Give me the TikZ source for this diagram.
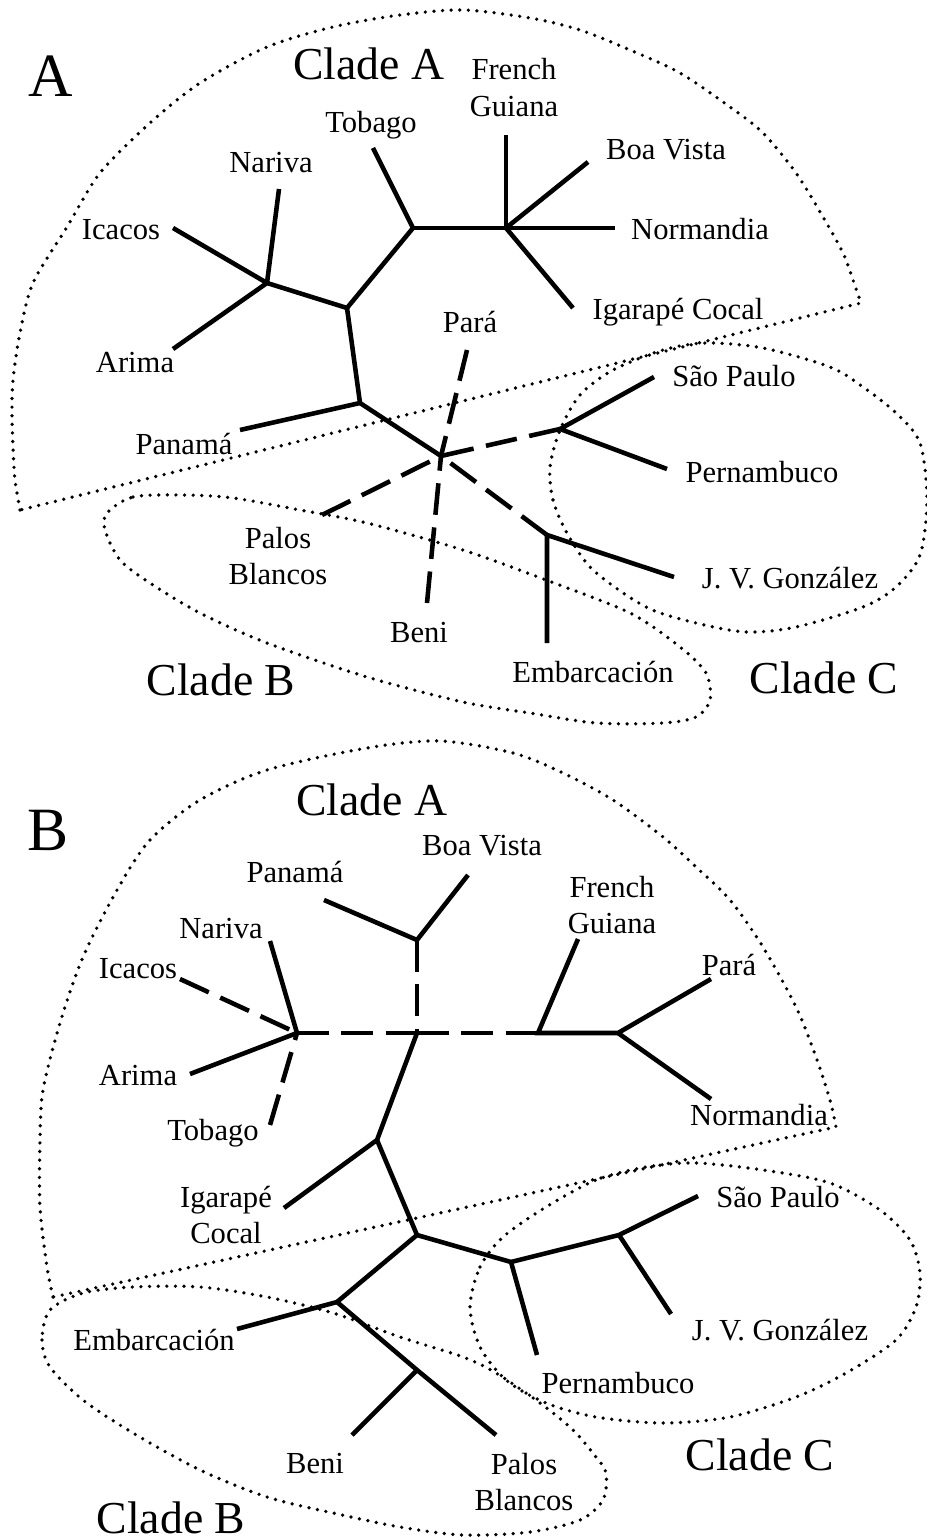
\documentclass[tikz,border=0pt]{standalone}
\usepackage{fontspec}
\setmainfont{Liberation Serif}
\begin{document}
\begin{tikzpicture}[x=0.01cm,y=-0.01cm,
    branch/.style={line width=1.3pt},
    dashbranch/.style={line width=1.3pt,dash pattern=on 9pt off 3.6pt},
    cladeline/.style={line width=1.05pt,line cap=round,dash pattern=on 0pt off 2.45pt},
    taxon/.style={font=\fontsize{8.7}{10.5}\selectfont,anchor=base,inner sep=0pt},
    taxontwo/.style={taxon,anchor=center,align=center},
    cladename/.style={font=\fontsize{13}{15}\selectfont,anchor=base,inner sep=0pt},
    panel/.style={font=\fontsize{17.5}{20}\selectfont,anchor=base,inner sep=0pt}]
  \useasboundingbox (0,0) rectangle (926,1540);

  % panel A
  \node[panel] (pA) at (51,97) {A};
  \node[cladename] (aCA) at (369,80) {Clade A};
  \node[cladename] (aCB) at (221,695) {Clade B};
  \node[cladename] (aCC) at (824,693) {Clade C};
  \node[taxon] (aIca) at (121,240) {Icacos};
  \node[taxon] (aNar) at (271,173) {Nariva};
  \node[taxon] (aTob) at (371,133) {Tobago};
  \node[taxon] (aAri) at (135,373) {Arima};
  \node[taxontwo] (aFGu) at (514,88) {French\\Guiana};
  \node[taxon] (aBV) at (666,160) {Boa Vista};
  \node[taxon] (aNor) at (700,240) {Normandia};
  \node[taxon] (aIgC) at (678,320) {Igarapé Cocal};
  \node[taxon] (aPar) at (470,333) {Pará};
  \node[taxon] (aSPa) at (734,387) {São Paulo};
  \node[taxon] (aPnm) at (184,455) {Panamá};
  \node[taxon] (aPer) at (762,482) {Pernambuco};
  \node[taxontwo] (aPBl) at (278,556) {Palos\\Blancos};
  \node[taxon] (aBen) at (419,642) {Beni};
  \node[taxon] (aJVG) at (790,588) {J. V. González};
  \node[taxon] (aEmb) at (593,682) {Embarcación};

  \coordinate (a1) at (267,283);
  \coordinate (a2) at (347,308);
  \coordinate (a3) at (413,228);
  \coordinate (a4) at (506,228);
  \coordinate (a5) at (360,403);
  \coordinate (a6) at (441,456);
  \coordinate (a7) at (560,429);
  \coordinate (a8) at (547,535);
  \coordinate (aIcaE) at (173,228);
  \coordinate (aNarE) at (279,189);
  \coordinate (aAriE) at (173,349);
  \coordinate (aTobE) at (373,148);
  \coordinate (aFGuE) at (506,135);
  \coordinate (aBVE) at (588,162);
  \coordinate (aNorE) at (615,228);
  \coordinate (aIgCE) at (573,308);
  \coordinate (aPnmE) at (240,430);
  \coordinate (aParE) at (467,350);
  \coordinate (aBenE) at (427,603);
  \coordinate (aPBlE) at (322,515);
  \coordinate (aSPaE) at (654,377);
  \coordinate (aPerE) at (667,469);
  \coordinate (aJVGE) at (674,577);
  \coordinate (aEmbE) at (547,643);

  \draw[branch] (aIcaE) -- (a1) -- (aAriE);
  \draw[branch] (aNarE) -- (a1) -- (a2) -- (a3) -- (aTobE);
  \draw[branch] (a3) -- (a4) -- (aFGuE);
  \draw[branch] (a4) -- (aBVE);
  \draw[branch] (a4) -- (aNorE);
  \draw[branch] (a4) -- (aIgCE);
  \draw[branch] (a2) -- (a5) -- (aPnmE);
  \draw[branch] (a5) -- (a6);
  \draw[branch] (aSPaE) -- (a7) -- (aPerE);
  \draw[branch] (aJVGE) -- (a8) -- (aEmbE);
  \draw[dashbranch] (aParE) -- (a6);
  \draw[dashbranch] (aBenE) -- (a6);
  \draw[dashbranch] (aPBlE) -- (a6);
  \draw[dashbranch] (a7) -- (a6);
  \draw[dashbranch] (a8) -- (a6);

  \draw[cladeline] plot[smooth] coordinates {(20,510) (15,480) (13,447) (12,413)
    (13,380) (20,333) (33,283) (67,227) (100,173) (150,123) (200,83) (267,47)
    (333,27) (400,15) (463,10) (530,18) (580,30) (630,50) (680,73) (730,107)
    (763,133) (796,173) (823,217) (843,253) (853,280) (861,303)} -- cycle;
  \draw[cladeline] plot[smooth cycle] coordinates {(107,513) (133,497) (183,495)
    (233,498) (300,510) (367,523) (463,550) (546,580) (630,613) (680,647)
    (706,673) (710,700) (696,717) (663,723) (596,723) (530,713) (463,702)
    (367,677) (267,643) (200,613) (150,583) (120,560) (105,530)};
  \draw[cladeline] plot[smooth cycle] coordinates {(550,467) (553,500) (567,533)
    (593,570) (646,607) (696,623) (746,632) (796,627) (863,607) (896,587)
    (920,555) (927,500) (920,443) (896,413) (863,387) (830,367) (763,348)
    (706,343) (663,350) (613,370) (580,395) (560,430)};

  % panel B
  \node[panel] (pB) at (48,850) {B};
  \node[cladename] (bCA) at (372,815) {Clade A};
  \node[cladename] (bCB) at (171,1533) {Clade B};
  \node[cladename] (bCC) at (760,1470) {Clade C};
  \node[taxon] (bBV) at (482,855) {Boa Vista};
  \node[taxon] (bPnm) at (295,882) {Panamá};
  \node[taxon] (bNar) at (221,938) {Nariva};
  \node[taxon] (bIca) at (138,978) {Icacos};
  \node[taxon] (bAri) at (138,1085) {Arima};
  \node[taxon] (bTob) at (213,1140) {Tobago};
  \node[taxontwo] (bFGu) at (612,905) {French\\Guiana};
  \node[taxon] (bPar) at (729,975) {Pará};
  \node[taxon] (bNor) at (759,1125) {Normandia};
  \node[taxontwo] (bIgC) at (226,1215) {Igarapé\\Cocal};
  \node[taxon] (bEmb) at (154,1350) {Embarcación};
  \node[taxon] (bBen) at (315,1473) {Beni};
  \node[taxon] (bSPa) at (778,1207) {São Paulo};
  \node[taxon] (bJVG) at (780,1340) {J. V. González};
  \node[taxon] (bPer) at (618,1393) {Pernambuco};
  \node[taxontwo] (bPBl) at (524,1482) {Palos\\Blancos};

  \coordinate (b1) at (297,1033);
  \coordinate (b2) at (417,1033);
  \coordinate (b3) at (417,940);
  \coordinate (b4) at (538,1033);
  \coordinate (b5) at (618,1033);
  \coordinate (b6) at (377,1140);
  \coordinate (b7) at (417,1235);
  \coordinate (b8) at (337,1302);
  \coordinate (b9) at (417,1370);
  \coordinate (b10) at (511,1262);
  \coordinate (b11) at (619,1235);
  \coordinate (bIcaE) at (180,979);
  \coordinate (bNarE) at (270,941);
  \coordinate (bAriE) at (190,1074);
  \coordinate (bTobE) at (270,1125);
  \coordinate (bPnmE) at (324,900);
  \coordinate (bBVE) at (468,875);
  \coordinate (bFGuE) at (578,939);
  \coordinate (bParE) at (711,979);
  \coordinate (bNorE) at (711,1099);
  \coordinate (bIgCE) at (284,1208);
  \coordinate (bEmbE) at (237,1329);
  \coordinate (bBenE) at (352,1435);
  \coordinate (bPBlE) at (496,1435);
  \coordinate (bPerE) at (537,1355);
  \coordinate (bSPaE) at (698,1196);
  \coordinate (bJVGE) at (671,1314);

  \draw[branch] (bNarE) -- (b1) -- (bAriE);
  \draw[branch] (bPnmE) -- (b3) -- (bBVE);
  \draw[branch] (bFGuE) -- (b4) -- (b5) -- (bParE);
  \draw[branch] (b5) -- (bNorE);
  \draw[branch] (b2) -- (b6) -- (bIgCE);
  \draw[branch] (b6) -- (b7) -- (b8) -- (bEmbE);
  \draw[branch] (b8) -- (b9) -- (bPBlE);
  \draw[branch] (b9) -- (bBenE);
  \draw[branch] (b7) -- (b10) -- (bPerE);
  \draw[branch] (b10) -- (b11) -- (bSPaE);
  \draw[branch] (b11) -- (bJVGE);
  \draw[dashbranch] (bIcaE) -- (b1);
  \draw[dashbranch] (bTobE) -- (b1);
  \draw[dashbranch] (b1) -- (b2);
  \draw[dashbranch] (b3) -- (b2);
  \draw[dashbranch] (b2) -- (b4);

  \draw[cladeline] plot[smooth] coordinates {(53,1297) (47,1267) (40,1207)
    (40,1140) (43,1090) (60,1023) (83,957) (117,890) (150,840) (200,800)
    (267,770) (367,748) (440,741) (513,753) (563,773) (613,800) (663,837)
    (696,867) (730,900) (763,947) (796,1007) (816,1057) (830,1100) (836,1127)} -- cycle;
  \draw[cladeline] plot[smooth cycle] coordinates {(50,1310) (42,1340) (50,1367)
    (83,1400) (133,1433) (200,1470) (267,1497) (333,1513) (400,1527) (463,1535)
    (530,1532) (580,1520) (603,1500) (606,1473) (596,1457) (573,1430) (540,1403)
    (496,1373) (463,1357) (400,1337) (333,1313) (267,1297) (200,1287) (133,1287)
    (83,1293)};
  \draw[cladeline] plot[smooth cycle] coordinates {(470,1307) (480,1267) (503,1237)
    (546,1207) (596,1180) (646,1167) (696,1163) (763,1170) (830,1183) (880,1210)
    (910,1240) (920,1273) (916,1307) (896,1340) (846,1373) (796,1397) (730,1417)
    (663,1423) (596,1417) (546,1403) (506,1380) (480,1347)};
\end{tikzpicture}
\end{document}
